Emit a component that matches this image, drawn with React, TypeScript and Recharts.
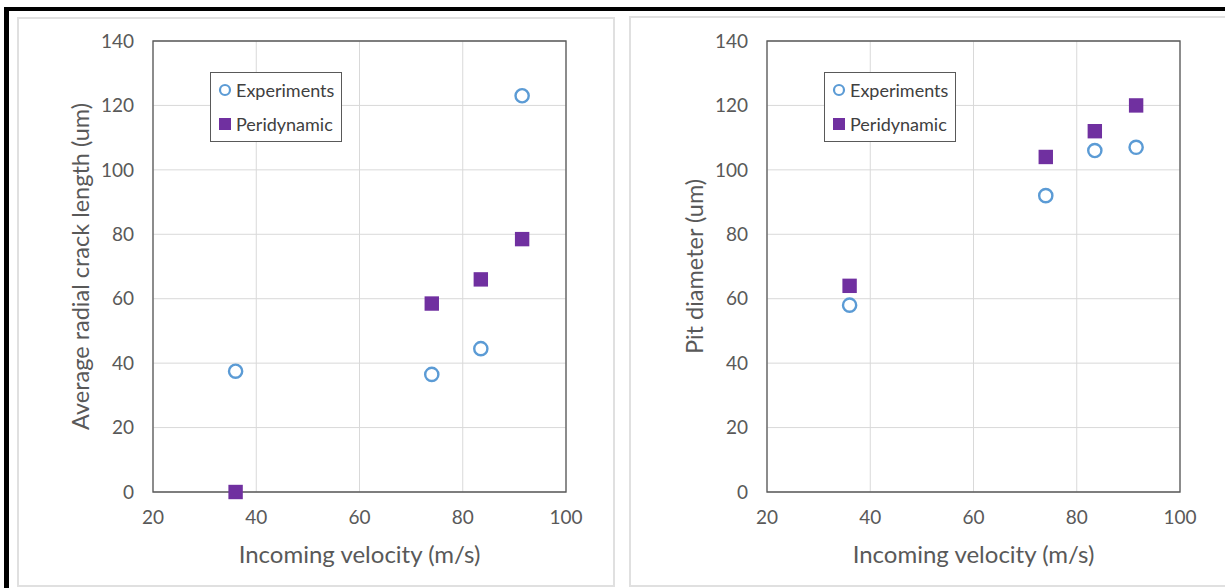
import React from 'react';
import {
  ScatterChart, Scatter, XAxis, YAxis, CartesianGrid, Legend, ReferenceArea
} from 'recharts';

// incoming velocity (m/s), same four shots in both panels
const velocities = [36, 74, 83.5, 91.5];

// left panel: average radial crack length (um)
const crackExperiments = [37.5, 36.5, 44.5, 123];
const crackPeridynamic = [0, 58.5, 66, 78.5];

// right panel: pit diameter (um)
const pitExperiments = [58, 92, 106, 107];
const pitPeridynamic = [64, 104, 112, 120];

const xTicks = [20, 40, 60, 80, 100];
const yTicks = [0, 20, 40, 60, 80, 100, 120, 140];

const FONT = 'Lato, "Open Sans", sans-serif';
const GREY_TEXT = '#595959';
const BLUE = '#5B9BD5';
const PURPLE = '#7030A0';

const toPoints = (ys: number[]) => velocities.map((v, i) => ({ v, y: ys[i] }));

const CircleMark = (props: any) => (
  <circle cx={props.cx} cy={props.cy} r={6.6} fill="#fff" stroke={BLUE} strokeWidth={2.4} />
);

const SquareMark = (props: any) => (
  <rect x={props.cx - 7.2} y={props.cy - 7.2} width={14.4} height={14.4} fill={PURPLE} />
);

const renderLegend = (props: any) => {
  const { payload } = props;
  return (
    <div
      style={{
        border: '1px solid #595959',
        background: '#fff',
        padding: '0 7px 0 7px',
        fontFamily: FONT,
        fontSize: 18,
        color: '#404040',
        lineHeight: '34px',
      }}
    >
      {(payload || []).map((entry: any) => (
        <div key={entry.value} style={{ display: 'flex', alignItems: 'center' }}>
          <svg width={14} height={14} style={{ marginRight: 4 }}>
            {entry.value === 'Experiments' ? (
              <circle cx={7} cy={7} r={5} fill="#fff" stroke={BLUE} strokeWidth={2.2} />
            ) : (
              <rect x={1} y={1} width={12} height={12} fill={PURPLE} />
            )}
          </svg>
          <span>{entry.value}</span>
        </div>
      ))}
    </div>
  );
};

const yTitle = (text: string) => (props: any) => {
  const { viewBox } = props;
  const cx = viewBox.x;
  const cy = viewBox.y + viewBox.height / 2;
  return (
    <text
      x={cx}
      y={cy}
      transform={`rotate(-90 ${cx} ${cy})`}
      textAnchor="middle"
      dominantBaseline="central"
      fill={GREY_TEXT}
      fontSize={23.5}
      fontFamily={FONT}
    >
      {text}
    </text>
  );
};

const xTitle = (text: string) => (props: any) => {
  const { viewBox } = props;
  const cx = viewBox.x + viewBox.width / 2;
  const cy = viewBox.y + 61;
  return (
    <text
      x={cx}
      y={cy}
      textAnchor="middle"
      dominantBaseline="central"
      fill={GREY_TEXT}
      fontSize={24}
      fontFamily={FONT}
    >
      {text}
    </text>
  );
};

interface PanelProps {
  width: number;
  yLabel: string;
  experiments: number[];
  peridynamic: number[];
}

const Panel: React.FC<PanelProps> = ({ width, yLabel, experiments, peridynamic }) => (
  <ScatterChart
    width={width}
    height={588}
    margin={{ top: 41, right: width - 566, bottom: 26, left: 80 }}
  >
    <CartesianGrid stroke="#D9D9D9" strokeWidth={1} />
    <XAxis
      type="number"
      dataKey="v"
      domain={[20, 100]}
      ticks={xTicks}
      axisLine={false}
      tickLine={false}
      tickSize={0}
      tickMargin={19}
      height={70}
      tick={{ fill: GREY_TEXT, fontSize: 19, fontFamily: FONT }}
      label={{ value: 'Incoming velocity (m/s)', content: xTitle('Incoming velocity (m/s)') }}
    />
    <YAxis
      type="number"
      dataKey="y"
      domain={[0, 140]}
      ticks={yTicks}
      axisLine={false}
      tickLine={false}
      tickSize={0}
      tickMargin={19}
      width={73}
      tick={{ fill: GREY_TEXT, fontSize: 19, fontFamily: FONT }}
      label={{ value: yLabel, content: yTitle(yLabel) }}
    />
    <ReferenceArea x1={20} x2={100} y1={0} y2={140} fill="none" stroke="#595959" strokeWidth={1.3} />
    <Legend
      layout="vertical"
      align="center"
      verticalAlign="middle"
      content={renderLegend}
      wrapperStyle={{ left: 210, top: 72, width: 'auto' }}
    />
    <Scatter
      name="Experiments"
      data={toPoints(experiments)}
      fill={BLUE}
      shape={CircleMark}
      isAnimationActive={false}
    />
    <Scatter
      name="Peridynamic"
      data={toPoints(peridynamic)}
      fill={PURPLE}
      shape={SquareMark}
      isAnimationActive={false}
    />
  </ScatterChart>
);

export default function App() {
  return (
    <div
      style={{
        position: 'absolute',
        left: 0,
        top: 0,
        width: 1225,
        height: 588,
        background: '#fff',
        overflow: 'hidden',
      }}
    >
      {/* black frame pieces along top and left */}
      <div style={{ position: 'absolute', left: 4, top: 7, width: 1221, height: 4, background: '#000' }} />
      <div style={{ position: 'absolute', left: 4, top: 7, width: 5, height: 581, background: '#000' }} />
      {/* light panel borders */}
      <div style={{ position: 'absolute', left: 17, top: 17, width: 594, height: 566, border: '2px solid #E0E0E0' }} />
      <div style={{ position: 'absolute', left: 629, top: 16, width: 610, height: 567, border: '2px solid #E0E0E0' }} />
      <div style={{ position: 'absolute', left: 0, top: 0 }}>
        <Panel
          width={612}
          yLabel="Average radial crack length (um)"
          experiments={crackExperiments}
          peridynamic={crackPeridynamic}
        />
      </div>
      <div style={{ position: 'absolute', left: 614, top: 0 }}>
        <Panel
          width={611}
          yLabel="Pit diameter (um)"
          experiments={pitExperiments}
          peridynamic={pitPeridynamic}
        />
      </div>
    </div>
  );
}
